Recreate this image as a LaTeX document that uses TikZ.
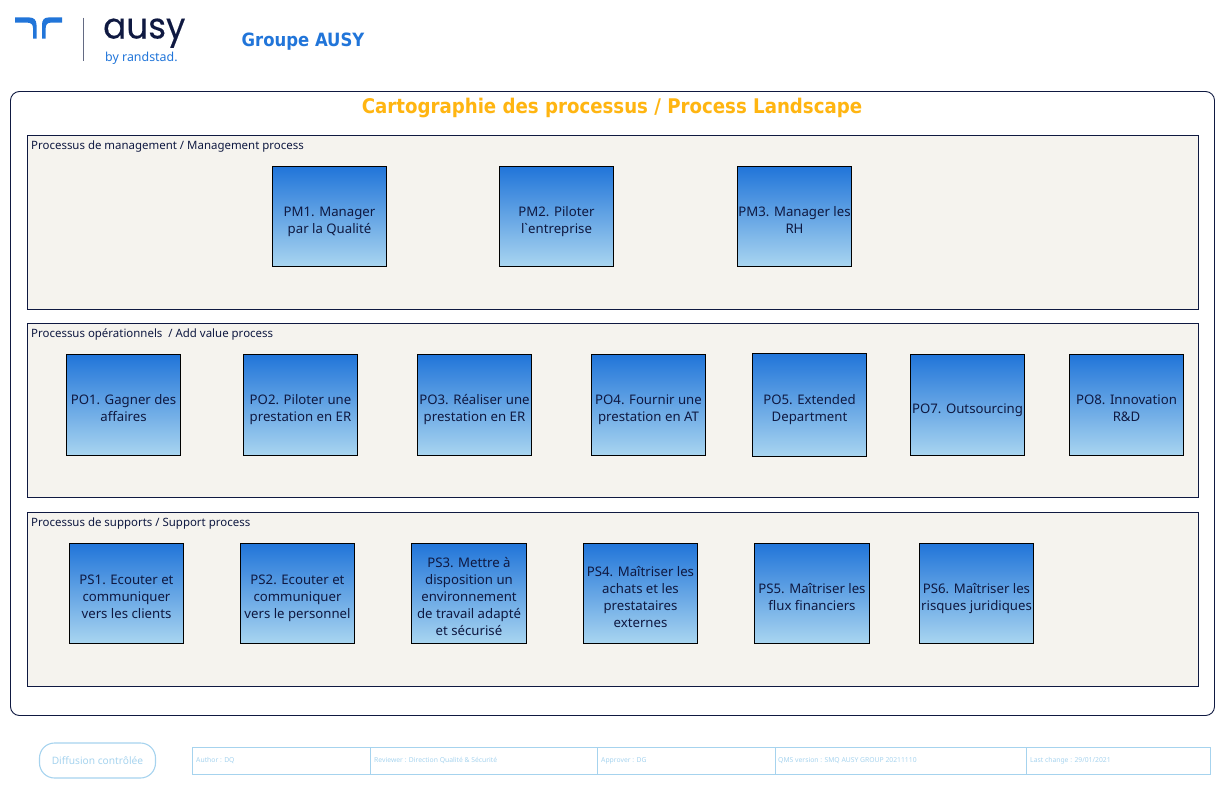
\documentclass[tikz,border=0pt]{standalone}
\usepackage{fontspec}
\setmainfont{Noto Sans}
\newfontfamily\gravefont{Noto Sans}
\newfontfamily\logofont{Poppins}[FakeBold=0.25,FakeStretch=0.95]
\newfontfamily\boldf{DejaVu Sans Condensed}[BoldFont=* Bold]
\definecolor{navy}{HTML}{0F1941}
\definecolor{rblue}{HTML}{2175D9}
\definecolor{gold}{HTML}{FFB511}
\definecolor{panel}{HTML}{F5F3EE}
\definecolor{sky}{HTML}{A6D3EE}
\definecolor{boxtop}{HTML}{2175D9}
\definecolor{palet}{HTML}{A9D5F0}
\pgfdeclareverticalshading{procshade}{100bp}{color(0bp)=(palet); color(25bp)=(palet); color(75bp)=(boxtop); color(100bp)=(boxtop)}
\tikzset{
 x=1pt,y=-1pt,
 frame/.style={draw=navy,line width=0.9pt,fill=panel},
 panellabel/.style={anchor=west,inner sep=0pt,text=navy,font=\fontsize{11.45}{13}\selectfont},
 procbox/.style={draw=black,line width=0.9pt,shading=procshade,anchor=north west,inner sep=0pt,outer sep=0pt},
 proctext/.style={inner sep=0pt,align=center,text=navy,font=\fontsize{13.2}{17}\selectfont},
 foottext/.style={anchor=west,inner sep=0pt,text=sky,font=\fontsize{6.8}{8}\selectfont},
}
\newcommand{\proc}[6]{\node[procbox,minimum width=#3pt,minimum height=#4pt] (#5) at (#1,#2) {};
\node[proctext] (#5t) at ([yshift=-4.9pt]#5.center) {\strut #6\strut};}
\begin{document}
\begin{tikzpicture}
\useasboundingbox (0,0) rectangle (1223,787);
% logo
\fill[rblue] (15,17.4) -- (29,17.4) .. controls (34,17.4) and (36.5,20) .. (36.5,25) -- (36.5,38.5) -- (33,38.5) -- (33,28) .. controls (33,24.5) and (31,22.6) .. (27,22.6) -- (15,22.6) -- cycle;
\fill[rblue] (62,17.4) -- (49,17.4) .. controls (44,17.4) and (42,20) .. (42,25) -- (42,38.5) -- (45.7,38.5) -- (45.7,28) .. controls (45.7,24.5) and (47.5,22.6) .. (51,22.6) -- (62,22.6) -- cycle;
\draw[draw=navy!65,line width=1.3pt] (83.5,17.5) -- (83.5,61);
\node[inner sep=0pt,anchor=base west,text=navy,font=\logofont\fontsize{36}{36}\selectfont] (logoa) at (103,38.5) {ausy};
\node[inner sep=0pt,anchor=base west,text=rblue,font=\fontsize{12.4}{14}\selectfont] (logob) at (105,61) {by randstad.};
\node[inner sep=0pt,anchor=base west,text=rblue,font=\boldf\bfseries\fontsize{18.3}{20}\selectfont] (grp) at (241.5,46) {Groupe AUSY};
% main
\draw[navy,line width=0.9pt,fill=white,rounded corners=9pt] (10.5,91.5) rectangle (1214.5,715.5);
\node[inner sep=0pt,text=gold,font=\boldf\bfseries\fontsize{20.2}{24}\selectfont] (title) at (612,108.5) {Cartographie des processus / Process Landscape};
% panels
\draw[frame] (27.5,135.5) rectangle (1198.5,309.5);
\node[panellabel] (l1) at (31,146.5) {Processus de management / Management process};
\draw[frame] (27.5,323.5) rectangle (1198.5,497.5);
\node[panellabel] (l2) at (31,334.5) {Processus opérationnels~~/ Add value process};
\draw[frame] (27.5,512.5) rectangle (1198.5,686.5);
\node[panellabel] (l3) at (31,523.5) {Processus de supports / Support process};
% PM
\proc{272.5}{166.5}{114}{100}{pm1}{PM1. Manager\\par la Qualité}
\proc{499.5}{166.5}{114}{100}{pm2}{PM2. Piloter\\l{\gravefont`}entreprise}
\proc{737.5}{166.5}{114}{100}{pm3}{PM3. Manager les\\RH}
% PO
\proc{66.5}{354.5}{114}{101}{po1}{PO1. Gagner des\\affaires}
\proc{243.5}{354.5}{114}{101}{po2}{PO2. Piloter une\\prestation en ER}
\proc{417.5}{354.5}{114}{101}{po3}{PO3. Réaliser une\\prestation en ER}
\proc{591.5}{354.5}{114}{101}{po4}{PO4. Fournir une\\prestation en AT}
\proc{752.5}{353.5}{114}{103}{po5}{PO5. Extended\\Department}
\proc{910.5}{354.5}{114}{101}{po7}{PO7. Outsourcing}
\proc{1069.5}{354.5}{114}{101}{po8}{PO8. Innovation\\R\&D}
% PS
\proc{69.5}{543.5}{114}{100}{ps1}{PS1. Ecouter et\\communiquer\\vers les clients}
\proc{240.5}{543.5}{114}{100}{ps2}{PS2. Ecouter et\\communiquer\\vers le personnel}
\proc{411.5}{543.5}{115}{100}{ps3}{PS3. Mettre à\\disposition un\\environnement\\de travail adapté\\et sécurisé}
\proc{583.5}{543.5}{114}{100}{ps4}{PS4. Maîtriser les\\achats et les\\prestataires\\externes}
\proc{754.5}{543.5}{115}{100}{ps5}{PS5. Maîtriser les\\flux financiers}
\proc{919.5}{543.5}{114}{100}{ps6}{PS6. Maîtriser les\\risques juridiques}
% footer
\node[draw=sky,line width=1.1pt,rounded corners=15pt,minimum width=116pt,minimum height=35pt,inner sep=0pt,text=sky,font=\fontsize{10.2}{12}\selectfont] (diff) at (97.5,760.5) {Diffusion contrôlée};
\draw[sky,line width=0.8pt] (192.5,747.5) rectangle (1210.5,774.5);
\draw[sky,line width=0.8pt] (370.5,747.5) -- (370.5,774.5);
\draw[sky,line width=0.8pt] (597.5,747.5) -- (597.5,774.5);
\draw[sky,line width=0.8pt] (775.5,747.5) -- (775.5,774.5);
\draw[sky,line width=0.8pt] (1026.5,747.5) -- (1026.5,774.5);
\node[foottext] (f1) at (196,760.5) {Author : DQ};
\node[foottext] (f2) at (374,760.5) {Reviewer : Direction Qualité \& Sécurité};
\node[foottext] (f3) at (601,760.5) {Approver : DG};
\node[foottext] (f4) at (778,760.5) {QMS version : SMQ AUSY GROUP 20211110};
\node[foottext] (f5) at (1030,760.5) {Last change : 29/01/2021};
\end{tikzpicture}
\end{document}
